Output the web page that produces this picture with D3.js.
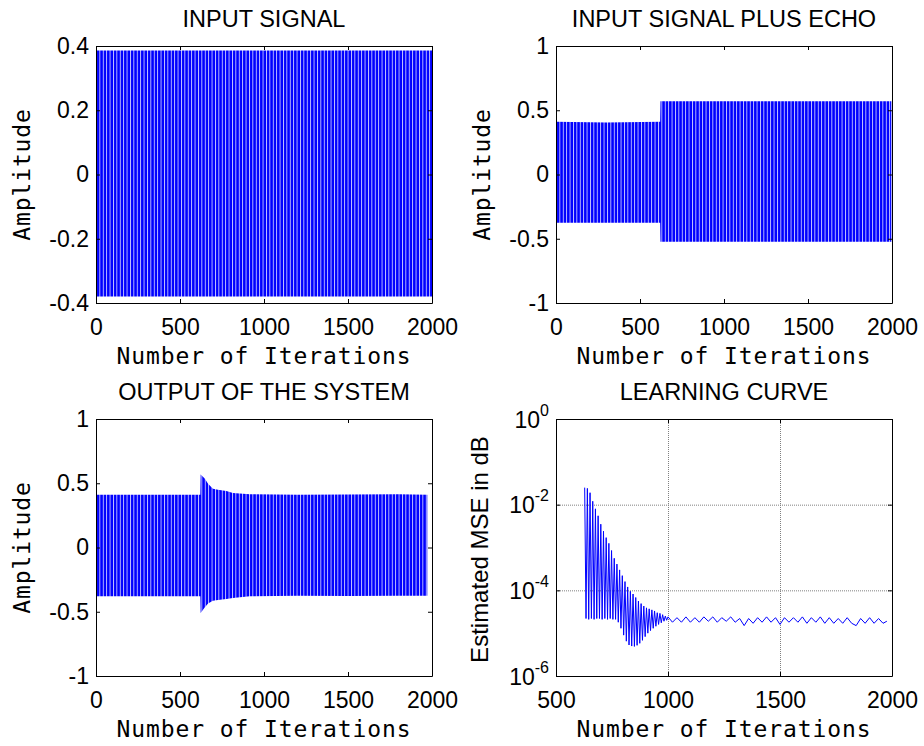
<!DOCTYPE html>
<html>
<head>
<meta charset="utf-8">
<script src="https://cdn.jsdelivr.net/npm/d3@7"></script>
<style>
body { margin: 0; background: #fff; }
</style>
</head>
<body>
<div id="chart-area"></div>
<script>
// ---------- data ----------
// dense oscillating signals are kept as their upper / lower peak envelopes
const inputIter  = [1, 2000]
const inputUpper = [0.386, 0.386]
const inputLower = [-0.380, -0.380]

const echoIter  = [1, 300, 620, 622, 1000, 1500, 1996]
const echoUpper = [0.41, 0.405, 0.41, 0.57, 0.57, 0.57, 0.57]
const echoLower = [-0.375, -0.375, -0.375, -0.523, -0.523, -0.523, -0.523]

const outIter  = [1, 621, 623, 647, 667, 696, 726, 776, 815, 915, 1200, 1500, 1800, 1972]
const outUpper = [0.411, 0.411, 0.568, 0.536, 0.497, 0.458, 0.45, 0.44, 0.424, 0.414, 0.41, 0.412, 0.415, 0.41]
const outLower = [-0.38, -0.38, -0.51, -0.466, -0.435, -0.414, -0.408, -0.40, -0.393, -0.38, -0.376, -0.378, -0.376, -0.376]

// learning curve: spike tops, spike bottoms, then the settled noisy part
const lcPeakIter = [628, 640, 652, 664, 676, 688, 700, 712, 724, 736, 748, 760, 772, 784, 796, 808,
                    820, 832, 844, 856, 868, 880, 892, 904, 916, 928, 940, 952, 964, 976, 988]
const lcPeak = [2.5e-2, 2.4e-2, 1.9e-2, 1.2e-2, 8.0e-3, 5.5e-3, 3.5e-3, 2.4e-3, 1.7e-3, 1.25e-3, 8.5e-4,
                5.6e-4, 4.1e-4, 3.0e-4, 2.2e-4, 1.6e-4, 1.2e-4, 9.5e-5, 8.2e-5, 6.8e-5, 5.6e-5, 4.9e-5,
                4.3e-5, 3.9e-5, 3.7e-5, 3.5e-5, 3.3e-5, 3.0e-5, 2.9e-5, 2.7e-5, 2.5e-5]
const lcTroughIter = [634, 646, 658, 670, 682, 694, 706, 718, 730, 742, 754, 766, 778, 790, 802, 814,
                      826, 838, 850, 862, 874, 886, 898, 910, 922, 934, 946, 958, 970, 982, 994]
const lcTrough = [2.2e-5, 2.1e-5, 2.2e-5, 2.1e-5, 2.2e-5, 2.2e-5, 2.1e-5, 2.2e-5, 2.1e-5, 2.2e-5, 2.1e-5,
                  2.1e-5, 1.8e-5, 1.3e-5, 9.0e-6, 6.5e-6, 5.3e-6, 5.0e-6, 4.9e-6, 5.2e-6, 5.8e-6, 6.8e-6,
                  8.3e-6, 1.0e-5, 1.15e-5, 1.3e-5, 1.45e-5, 1.6e-5, 1.75e-5, 1.9e-5, 2.0e-5]
const lcSteadyIter = [1000, 1020, 1040, 1060, 1080, 1100, 1120, 1140, 1160, 1180, 1200, 1220, 1240, 1260,
                      1280, 1300, 1320, 1340, 1360, 1380, 1400, 1420, 1440, 1460, 1480, 1500, 1520, 1540,
                      1560, 1580, 1600, 1620, 1640, 1660, 1680, 1700, 1720, 1740, 1760, 1780, 1800, 1820,
                      1840, 1860, 1880, 1900, 1920, 1940, 1960, 1977]
const lcSteady = [2.4e-5, 1.8e-5, 2.3e-5, 1.8e-5, 2.4e-5, 1.8e-5, 2.3e-5, 1.8e-5, 2.4e-5, 1.9e-5, 2.4e-5,
                  1.8e-5, 2.3e-5, 1.9e-5, 2.4e-5, 1.8e-5, 2.2e-5, 1.5e-5, 2.2e-5, 1.7e-5, 2.3e-5, 1.8e-5,
                  2.4e-5, 1.8e-5, 2.3e-5, 1.6e-5, 2.3e-5, 1.8e-5, 2.3e-5, 1.8e-5, 2.4e-5, 1.7e-5, 2.3e-5,
                  1.8e-5, 2.4e-5, 1.7e-5, 2.3e-5, 1.7e-5, 2.2e-5, 1.7e-5, 2.3e-5, 1.7e-5, 1.5e-5, 2.2e-5,
                  1.7e-5, 2.3e-5, 1.7e-5, 2.2e-5, 1.7e-5, 1.9e-5]

// tick values
const iterTicks  = [0, 500, 1000, 1500, 2000]
const lcIterTicks = [500, 1000, 1500, 2000]
const inputTicks = [-0.4, -0.2, 0, 0.2, 0.4]
const ampTicks   = [-1, -0.5, 0, 0.5, 1]
const mseTicks   = [1e-6, 1e-4, 1e-2, 1]
const mseExp     = ["-6", "-4", "-2", "0"]

// ---------- layout ----------
const PW = 336, PH = 257
const COLX = [96, 556], ROWY = [46, 419]
const BLUE = "#0000ff"
const SANS = "'Liberation Sans', Arial, sans-serif"
const MONO = "'DejaVu Sans Mono', monospace"

const svg = d3.select('#chart-area').append("svg")
    .attr("width", 924)
    .attr("height", 746)

svg.append("rect").attr("width", 924).attr("height", 746).attr("fill", "#fff")

// stripe fill, imitates the thin white gaps between the plotted oscillations
const pat = svg.append("defs").append("pattern")
    .attr("id", "stripes")
    .attr("patternUnits", "userSpaceOnUse")
    .attr("width", 3.4).attr("height", 20)
pat.append("rect").attr("width", 3.4).attr("height", 20).attr("fill", BLUE)
pat.append("rect").attr("width", 0.9).attr("height", 20).attr("fill", "#fff").attr("opacity", 0.8)

function zipEnv(it, up, lo) {
    return it.map((d, i) => ({ it: d, up: up[i], lo: lo[i] }))
}

function panel(col, row, cfg) {
    const g = svg.append("g")
        .attr("transform", `translate(${COLX[col]}, ${ROWY[row]})`)
    const x = cfg.x.range([0, PW])
    const y = cfg.y.range([PH, 0])

    if (cfg.grid) cfg.grid(g, x, y)
    cfg.draw(g, x, y)

    // bottom axis with labels, other three sides ticks only (inward, box on)
    g.append("g")
        .attr("transform", `translate(0, ${PH})`)
        .call(d3.axisBottom(x).tickValues(cfg.xt).tickSizeInner(-4).tickSizeOuter(0)
            .tickPadding(16).tickFormat(d => String(d)))
        .attr("font-family", SANS).attr("font-size", 23)
    g.append("g")
        .call(d3.axisTop(x).tickValues(cfg.xt).tickSizeInner(-4).tickSizeOuter(0).tickFormat(""))
    const yl = g.append("g")
        .call(d3.axisLeft(y).tickValues(cfg.yt).tickSizeInner(-4).tickSizeOuter(0)
            .tickPadding(7).tickFormat(d => String(d)))
        .attr("font-family", SANS).attr("font-size", 23)
    g.append("g")
        .attr("transform", `translate(${PW}, 0)`)
        .call(d3.axisRight(y).tickValues(cfg.yt).tickSizeInner(-4).tickSizeOuter(0).tickFormat(""))
    if (cfg.yLabels) cfg.yLabels(yl)

    // title
    g.append("text")
        .attr("x", PW / 2).attr("y", -19)
        .attr("text-anchor", "middle")
        .attr("font-family", SANS).attr("font-size", 23.5)
        .text(cfg.title)

    // x label
    g.append("text")
        .attr("x", PW / 2).attr("y", PH + 61)
        .attr("text-anchor", "middle")
        .attr("font-family", MONO).attr("font-size", 23)
        .attr("letter-spacing", 0.9)
        .text("Number of Iterations")

    // y label
    g.append("text")
        .attr("transform", `translate(${cfg.yLabelX}, ${PH / 2 + (cfg.yLabelDy || 0)}) rotate(-90)`)
        .attr("text-anchor", "middle")
        .attr("font-family", cfg.yLabelFont)
        .attr("font-size", cfg.yLabelSize)
        .attr("letter-spacing", cfg.yLabelSpacing || 0)
        .text(cfg.yLabel)
}

function envelopeDraw(data) {
    return (g, x, y) => {
        const area = d3.area()
            .x(d => x(d.it))
            .y0(d => y(d.lo))
            .y1(d => y(d.up))
        g.append("path")
            .datum(data)
            .attr("d", area)
            .attr("fill", "url(#stripes)")
    }
}

// INPUT SIGNAL
panel(0, 0, {
    title: "INPUT SIGNAL",
    x: d3.scaleLinear().domain([0, 2000]),
    y: d3.scaleLinear().domain([-0.4, 0.4]),
    xt: iterTicks, yt: inputTicks,
    yLabel: "Amplitude", yLabelX: 30 - 96, yLabelFont: MONO, yLabelSize: 23, yLabelSpacing: 0.9,
    draw: envelopeDraw(zipEnv(inputIter, inputUpper, inputLower))
})

// INPUT SIGNAL PLUS ECHO
panel(1, 0, {
    title: "INPUT SIGNAL PLUS ECHO",
    x: d3.scaleLinear().domain([0, 2000]),
    y: d3.scaleLinear().domain([-1, 1]),
    xt: iterTicks, yt: ampTicks,
    yLabel: "Amplitude", yLabelX: 490 - 556, yLabelFont: MONO, yLabelSize: 23, yLabelSpacing: 0.9,
    draw: envelopeDraw(zipEnv(echoIter, echoUpper, echoLower))
})

// OUTPUT OF THE SYSTEM
panel(0, 1, {
    title: "OUTPUT OF THE SYSTEM",
    x: d3.scaleLinear().domain([0, 2000]),
    y: d3.scaleLinear().domain([-1, 1]),
    xt: iterTicks, yt: ampTicks,
    yLabel: "Amplitude", yLabelX: 30 - 96, yLabelFont: MONO, yLabelSize: 23, yLabelSpacing: 0.9,
    draw: envelopeDraw(zipEnv(outIter, outUpper, outLower))
})

// LEARNING CURVE
const lcPoints = []
lcPeakIter.forEach((it, i) => {
    lcPoints.push([it, lcPeak[i]])
    lcPoints.push([lcTroughIter[i], lcTrough[i]])
})
lcSteadyIter.forEach((it, i) => lcPoints.push([it, lcSteady[i]]))

panel(1, 1, {
    title: "LEARNING CURVE",
    x: d3.scaleLinear().domain([500, 2000]),
    y: d3.scaleLog().domain([1e-6, 1]),
    xt: lcIterTicks, yt: mseTicks,
    yLabel: "Estimated MSE in dB", yLabelX: 488 - 556, yLabelDy: 2, yLabelFont: SANS, yLabelSize: 24,
    grid: (g, x, y) => {
        g.selectAll(".vgrid").data([1000, 1500]).enter().append("line")
            .attr("x1", d => x(d) + 0.5).attr("x2", d => x(d) + 0.5)
            .attr("y1", 0).attr("y2", PH)
            .attr("stroke", "#808080").attr("stroke-dasharray", "1,1")
        g.selectAll(".hgrid").data([1e-2, 1e-4]).enter().append("line")
            .attr("y1", d => y(d) + 0.5).attr("y2", d => y(d) + 0.5)
            .attr("x1", 0).attr("x2", PW)
            .attr("stroke", "#808080").attr("stroke-dasharray", "1,1")
    },
    draw: (g, x, y) => {
        g.append("path")
            .datum(lcPoints)
            .attr("d", d3.line().x(d => x(d[0])).y(d => y(d[1])))
            .attr("fill", "none")
            .attr("stroke", BLUE)
            .attr("stroke-width", 1)
    },
    yLabels: (yl) => {
        yl.selectAll(".tick text").each(function(d, i) {
            const t = d3.select(this).text("").attr("dy", null).attr("y", 8)
            t.append("tspan").text("10")
            t.append("tspan").attr("font-size", 16).attr("dy", -12).text(mseExp[i])
        })
    }
})
</script>
</body>
</html>
